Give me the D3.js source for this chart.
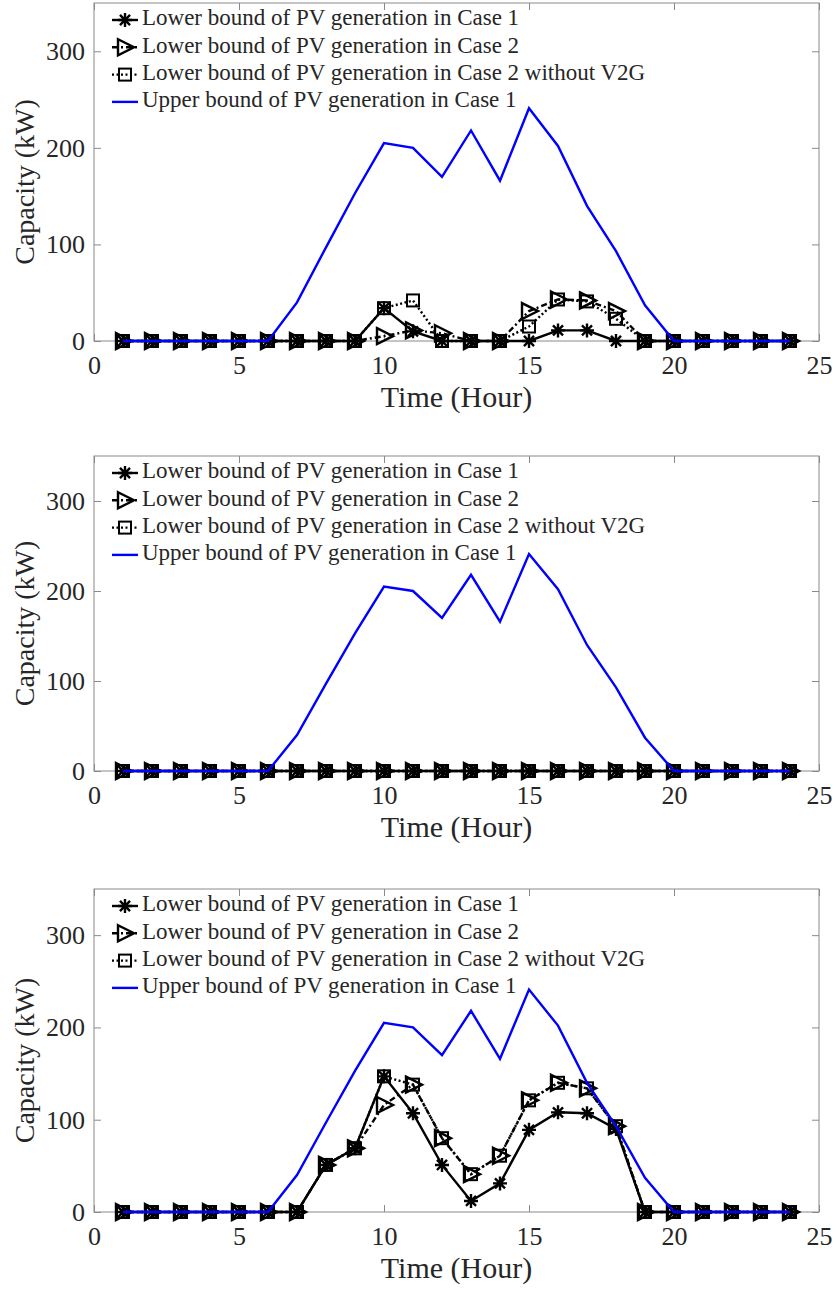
<!DOCTYPE html>
<html>
<head>
<meta charset="utf-8">
<script src="https://cdn.jsdelivr.net/npm/d3@7"></script>
<style>
  body { margin: 0; background: #fff; }
  text { font-family: "Liberation Serif", "Times New Roman", serif; }
</style>
</head>
<body>
<div id="chart"></div>
<script>
// Data
var hours = [1, 2, 3, 4, 5, 6, 7, 8, 9, 10, 11, 12, 13, 14, 15, 16, 17, 18, 19, 20, 21, 22, 23, 24];
var xTicks = [0, 5, 10, 15, 20, 25];
var yTicks = [0, 100, 200, 300];

var upperCase1 = [0, 0, 0, 0, 0, 0, 40, 97, 153, 205, 200, 170, 218, 166, 241, 202, 140, 93, 37, 0, 0, 0, 0, 0];

// top panel
var lowCase1A = [0, 0, 0, 0, 0, 0, 0, 0, 0, 34, 10, 0, 0, 0, 0, 11, 11, 0, 0, 0, 0, 0, 0, 0];
var lowCase2A = [0, 0, 0, 0, 0, 0, 0, 0, 0, 5, 11, 8, 0, 0, 31, 43, 42, 31, 0, 0, 0, 0, 0, 0];
var lowNoV2GA = [0, 0, 0, 0, 0, 0, 0, 0, 0, 34, 42, 0, 0, 0, 15, 43, 41, 23, 0, 0, 0, 0, 0, 0];

// middle panel
var lowCase1B = [0, 0, 0, 0, 0, 0, 0, 0, 0, 0, 0, 0, 0, 0, 0, 0, 0, 0, 0, 0, 0, 0, 0, 0];
var lowCase2B = [0, 0, 0, 0, 0, 0, 0, 0, 0, 0, 0, 0, 0, 0, 0, 0, 0, 0, 0, 0, 0, 0, 0, 0];
var lowNoV2GB = [0, 0, 0, 0, 0, 0, 0, 0, 0, 0, 0, 0, 0, 0, 0, 0, 0, 0, 0, 0, 0, 0, 0, 0];

// bottom panel
var lowCase1C = [0, 0, 0, 0, 0, 0, 0, 51, 69, 147, 107, 51, 12, 31, 89, 108, 107, 90, 0, 0, 0, 0, 0, 0];
var lowCase2C = [0, 0, 0, 0, 0, 0, 0, 51, 69, 116, 138, 80, 41, 61, 121, 140, 134, 93, 0, 0, 0, 0, 0, 0];
var lowNoV2GC = [0, 0, 0, 0, 0, 0, 0, 51, 69, 147, 138, 80, 41, 61, 121, 140, 134, 93, 0, 0, 0, 0, 0, 0];

var legendNames = [
  "Lower bound of PV generation in Case 1",
  "Lower bound of PV generation in Case 2",
  "Lower bound of PV generation in Case 2 without V2G",
  "Upper bound of PV generation in Case 1"
];

var svgWidth = 836;
var svgHeight = 1291;

var svg = d3.select("#chart")
  .append("svg")
  .attr("width", svgWidth)
  .attr("height", svgHeight);

// panel boxes (each panel is a bit different in height in the original)
var panels = [
  { top: 3, bottom: 341, low1: lowCase1A, low2: lowCase2A, low3: lowNoV2GA },
  { top: 456, bottom: 771, low1: lowCase1B, low2: lowCase2B, low3: lowNoV2GB },
  { top: 889, bottom: 1212, low1: lowCase1C, low2: lowCase2C, low3: lowNoV2GC }
];

var left = 94, right = 819;
var axisColor = "#8a8a8a";
var textColor = "#262626";

var xScale = d3.scaleLinear().domain([0, 25]).range([left, right]);

// marker drawing helpers
function drawMarker(g, type, x, y) {
  if (type === "star") {
    var r = 7, d = r * 0.72;
    var p = "M" + (x - r) + "," + y + "L" + (x + r) + "," + y +
      "M" + x + "," + (y - r) + "L" + x + "," + (y + r) +
      "M" + (x - d) + "," + (y - d) + "L" + (x + d) + "," + (y + d) +
      "M" + (x - d) + "," + (y + d) + "L" + (x + d) + "," + (y - d);
    g.append("path").attr("d", p).attr("stroke", "#000").attr("stroke-width", 2.4).attr("fill", "none");
  } else if (type === "tri") {
    g.append("path")
      .attr("d", "M" + (x - 7) + "," + (y - 8) + "L" + (x + 9) + "," + y + "L" + (x - 7) + "," + (y + 8) + "Z")
      .attr("stroke", "#000").attr("stroke-width", 2.4).attr("fill", "none");
  } else if (type === "sq") {
    g.append("rect")
      .attr("x", x - 6).attr("y", y - 6)
      .attr("width", 12).attr("height", 12)
      .attr("stroke", "#000").attr("stroke-width", 2).attr("fill", "none");
  }
}

panels.forEach(function(p) {
  var yScale = d3.scaleLinear().domain([0, 350]).range([p.bottom, p.top]);
  var g = svg.append("g");

  // box
  g.append("rect")
    .attr("x", left).attr("y", p.top)
    .attr("width", right - left).attr("height", p.bottom - p.top)
    .attr("fill", "none").attr("stroke", axisColor).attr("stroke-width", 1);

  // axes, ticks pointing inwards
  var bottomAxis = d3.axisBottom(xScale).tickValues(xTicks).tickSizeInner(-7).tickSizeOuter(0).tickPadding(15);
  var topAxis = d3.axisTop(xScale).tickValues(xTicks).tickSizeInner(-7).tickSizeOuter(0).tickFormat("");
  var leftAxis = d3.axisLeft(yScale).tickValues(yTicks).tickSizeInner(-7).tickSizeOuter(0).tickPadding(9);
  var rightAxis = d3.axisRight(yScale).tickValues(yTicks).tickSizeInner(-7).tickSizeOuter(0).tickFormat("");

  var axes = [
    g.append("g").attr("transform", `translate(0, ${p.bottom})`).call(bottomAxis),
    g.append("g").attr("transform", `translate(0, ${p.top})`).call(topAxis),
    g.append("g").attr("transform", `translate(${left}, 0)`).call(leftAxis),
    g.append("g").attr("transform", `translate(${right}, 0)`).call(rightAxis)
  ];
  axes.forEach(function(a) {
    a.select(".domain").remove();
    a.selectAll("line").attr("stroke", axisColor);
    a.selectAll("text")
      .style("font-family", "'Liberation Serif', serif")
      .style("font-size", "26px")
      .attr("fill", textColor);
  });

  // axis titles
  g.append("text")
    .attr("x", (left + right) / 2)
    .attr("y", p.bottom + 59)
    .attr("text-anchor", "middle")
    .attr("dominant-baseline", "middle")
    .style("font-size", "30px")
    .attr("fill", textColor)
    .text("Time (Hour)");

  g.append("text")
    .attr("transform", `translate(28, ${(p.top + p.bottom) / 2 + 10}) rotate(-90)`)
    .attr("text-anchor", "middle")
    .attr("dominant-baseline", "middle")
    .style("font-size", "28px")
    .attr("fill", textColor)
    .text("Capacity (kW)");

  // series
  var series = [
    { values: p.low1, marker: "star", dash: null, color: "#000" },
    { values: p.low2, marker: "tri", dash: "6,3,2,3", color: "#000" },
    { values: p.low3, marker: "sq", dash: "2,2.5", color: "#000" },
    { values: upperCase1, marker: null, dash: null, color: "#0000ff" }
  ];

  var line = d3.line()
    .x(function(d) { return xScale(d.h); })
    .y(function(d) { return yScale(d.v); });

  series.forEach(function(s) {
    var pts = hours.map(function(h, i) { return { h: h, v: s.values[i] }; });
    g.append("path")
      .datum(pts)
      .attr("d", line)
      .attr("fill", "none")
      .attr("stroke", s.color)
      .attr("stroke-width", 2.4)
      .attr("stroke-dasharray", s.dash);
    if (s.marker) {
      var mg = g.append("g");
      pts.forEach(function(d) {
        drawMarker(mg, s.marker, xScale(d.h), yScale(d.v));
      });
    }
  });

  // legend
  var lg = g.append("g");
  series.forEach(function(s, i) {
    var ly = p.top + 17 + i * 27.3;
    lg.append("line")
      .attr("x1", 112).attr("x2", 138)
      .attr("y1", ly).attr("y2", ly)
      .attr("stroke", s.color)
      .attr("stroke-width", 2.4)
      .attr("stroke-dasharray", s.dash);
    if (s.marker) drawMarker(lg, s.marker, 125, ly);
    lg.append("text")
      .attr("x", 142)
      .attr("y", ly)
      .attr("dominant-baseline", "middle")
      .style("font-size", "23px")
      .attr("fill", textColor)
      .text(legendNames[i]);
  });
});
</script>
</body>
</html>
